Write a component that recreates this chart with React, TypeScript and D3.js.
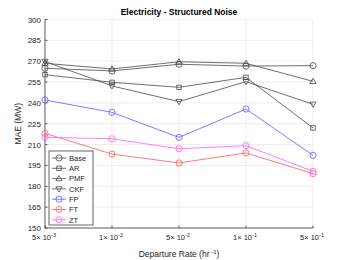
import * as d3 from "d3";

const WIDTH = 346;
const HEIGHT = 260;
const MARGIN = { top: 19.5, right: 33, bottom: 32, left: 45 };

const RATES = ["5e-3", "1e-2", "5e-2", "1e-1", "5e-1"];
const RATE_LABELS = [
  { mant: "5×", exp: "-3" },
  { mant: "1×", exp: "-2" },
  { mant: "5×", exp: "-2" },
  { mant: "1×", exp: "-1" },
  { mant: "5×", exp: "-1" },
];
const Y_TICKS = [150, 165, 180, 195, 210, 225, 240, 255, 270, 285, 300];

const BASE = [264.9, 263.0, 267.8, 266.5, 266.8];
const AR = [260.3, 254.8, 251.2, 258.4, 222.0];
const PMF = [268.5, 264.4, 269.6, 268.5, 255.5];
const CKF = [269.8, 252.2, 240.9, 255.3, 239.0];
const FP = [242.1, 233.2, 215.2, 235.6, 202.3];
const FT = [218.1, 203.2, 196.8, 204.0, 189.1];
const ZT = [215.2, 214.2, 207.0, 209.2, 190.8];

const SERIES = [
  { name: "Base", values: BASE, color: "#4a4a4a", marker: "circle" },
  { name: "AR", values: AR, color: "#4a4a4a", marker: "square" },
  { name: "PMF", values: PMF, color: "#4a4a4a", marker: "up" },
  { name: "CKF", values: CKF, color: "#4a4a4a", marker: "down" },
  { name: "FP", values: FP, color: "#5a5aff", marker: "circle" },
  { name: "FT", values: FT, color: "#ff5a5a", marker: "circle" },
  { name: "ZT", values: ZT, color: "#ff5aff", marker: "circle" },
];

const FONT = "Liberation Sans, Arial, sans-serif";

function Marker({ type, x, y, color }: { type: string; x: number; y: number; color: string }) {
  const r = 3.1;
  if (type === "circle") return <circle cx={x} cy={y} r={r} fill="none" stroke={color} strokeWidth={0.8} />;
  if (type === "square")
    return <rect x={x - 2.2} y={y - 2.2} width={4.4} height={4.4} fill="none" stroke={color} strokeWidth={0.8} />;
  const s = type === "up" ? -1 : 1;
  const pts = [
    [x, y + s * r],
    [x - r, y - s * r * 0.7],
    [x + r, y - s * r * 0.7],
  ];
  return <polygon points={pts.map((p) => p.join(",")).join(" ")} fill="none" stroke={color} strokeWidth={0.8} />;
}

export default function App() {
  const x = d3.scalePoint().domain(RATES).range([MARGIN.left, WIDTH - MARGIN.right]);
  const y = d3.scaleLinear().domain([150, 300]).range([HEIGHT - MARGIN.bottom, MARGIN.top]);
  const line = d3
    .line<number>()
    .x((_, i) => x(RATES[i]) as number)
    .y((v) => y(v));

  const x0 = MARGIN.left;
  const x1 = WIDTH - MARGIN.right;
  const y0 = HEIGHT - MARGIN.bottom;
  const y1 = MARGIN.top;

  const legendX = 49;
  const legendY = 151;
  const rowH = 10.3;

  return (
    <svg width={WIDTH} height={HEIGHT} style={{ position: "absolute", left: 0, top: 0, background: "#fff" }} fontFamily={FONT}>
      {Y_TICKS.map((t) => (
        <line key={`gy-${t}`} x1={x0} x2={x1} y1={y(t)} y2={y(t)} stroke="#e6e6e6" strokeWidth={0.7} />
      ))}
      {RATES.map((r) => (
        <line key={`gx-${r}`} x1={x(r)} x2={x(r)} y1={y0} y2={y1} stroke="#e6e6e6" strokeWidth={0.7} />
      ))}

      <line x1={x0} x2={x1} y1={y0} y2={y0} stroke="#262626" strokeWidth={0.7} />
      <line x1={x0} x2={x0} y1={y0} y2={y1} stroke="#262626" strokeWidth={0.7} />

      {Y_TICKS.map((t) => (
        <g key={`ty-${t}`}>
          <line x1={x0} x2={x0 + 2.5} y1={y(t)} y2={y(t)} stroke="#262626" strokeWidth={0.7} />
          <text x={x0 - 4} y={y(t) + 3} textAnchor="end" fontSize={8} fill="#262626">
            {t}
          </text>
        </g>
      ))}
      {RATES.map((r, i) => (
        <g key={`tx-${r}`}>
          <line x1={x(r)} x2={x(r)} y1={y0} y2={y0 - 2.5} stroke="#262626" strokeWidth={0.7} />
          <text x={(x(r) as number) - 1} y={y0 + 12} textAnchor="middle" fontSize={7.5} fill="#262626">
            {RATE_LABELS[i].mant} 10
            <tspan dy={-3.5} fontSize={5.5}>
              {RATE_LABELS[i].exp}
            </tspan>
          </text>
        </g>
      ))}

      <text x={(x0 + x1) / 2} y={257} textAnchor="middle" fontSize={8.5} fill="#262626">
        Departure Rate (hr
        <tspan dy={-3.5} fontSize={6}>
          {" -1"}
        </tspan>
        <tspan dy={3.5}>)</tspan>
      </text>
      <text transform={`translate(21 ${(y0 + y1) / 2}) rotate(-90)`} textAnchor="middle" fontSize={8.5} fill="#262626">
        MAE (MW)
      </text>
      <text x={(x0 + x1) / 2} y={15} textAnchor="middle" fontSize={8.5} fontWeight="bold" fill="#000">
        Electricity - Structured Noise
      </text>

      {SERIES.map((s) => (
        <g key={s.name}>
          <path d={line(s.values) || ""} fill="none" stroke={s.color} strokeWidth={0.8} />
          {s.values.map((v, i) => (
            <Marker key={i} type={s.marker} x={x(RATES[i]) as number} y={y(v)} color={s.color} />
          ))}
        </g>
      ))}

      <rect x={legendX} y={legendY} width={44} height={74} fill="#fff" stroke="#262626" strokeWidth={0.7} />
      {SERIES.map((s, i) => {
        const ly = legendY + 7 + i * rowH;
        return (
          <g key={`lg-${s.name}`}>
            <line x1={legendX + 3} x2={legendX + 17} y1={ly} y2={ly} stroke={s.color} strokeWidth={0.8} />
            <Marker type={s.marker} x={legendX + 10} y={ly} color={s.color} />
            <text x={legendX + 20} y={ly + 2.8} fontSize={7.5} fill="#262626">
              {s.name}
            </text>
          </g>
        );
      })}
    </svg>
  );
}
